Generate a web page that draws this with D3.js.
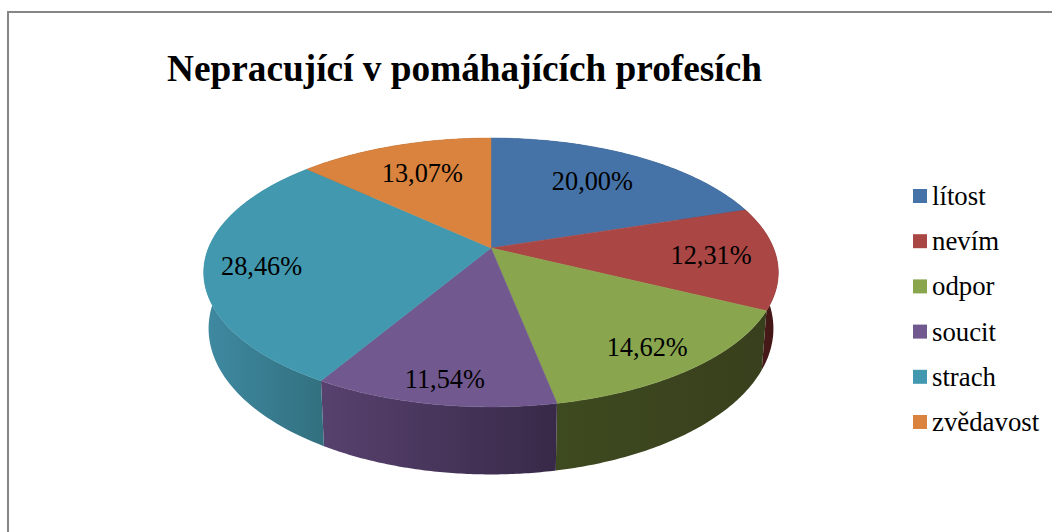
<!DOCTYPE html>
<html><head><meta charset="utf-8">
<script src="https://cdn.jsdelivr.net/npm/d3@7"></script>
<style>html,body{margin:0;padding:0;background:#fff;overflow:hidden}svg{display:block}text{font-family:"Liberation Serif","Times New Roman",serif;fill:#000}</style>
</head><body><svg id="c" width="1052" height="532"></svg>
<script>
const titleText = "Nepracující v pomáhajících profesích";
const categories = ["lítost","nevím","odpor","soucit","strach","zvědavost"];
const values = [20.00,12.31,14.62,11.54,28.46,13.07];
const labels = ["20,00%","12,31%","14,62%","11,54%","28,46%","13,07%"];
const colors = ["#4572A7","#AA4643","#89A54E","#71588F","#4198AF","#D9833E"];
const sideLeft = ["#2a4466","#4f1c1c","#3e4a20","#57416e","#3f8aa2","#7d4a20"];
const sideRight = ["#2a4466","#431616","#383f1c","#382948","#32707f","#7d4a20"];
const labelRadius = [0.70,0.78,0.85,0.87,0.80,0.70];
const labelNudge = [[-4,0],[-2,0],[-10,-1],[3,-1],[-1,3],[2,0]];

const svg = d3.select("#c");
const cx=491, cy=248, a=130, b=282.5, p=0.182;
// perspective projection of the tilted disc
const proj = (r,t,sx=1,sy=1,dy=0) => {
  const u=r*Math.sin(t), v=-r*Math.cos(t), w=1-p*v;
  return [cx+sx*b*u/w, cy+dy+sy*a*v/w];
};
const top_ = (r,t)=>proj(r,t);
const bot = t=>proj(1,t,0.983,1.085,54);
const line = d3.line();
const arcs = d3.pie().sort(null)(values);
const steps = (d)=>d3.range(0,1.0001,1/80).map(k=>d.startAngle+k*(d.endAngle-d.startAngle));

svg.append("path").attr("d","M8,532V12H1052").attr("fill","none").attr("stroke","#868686").attr("stroke-width",2);

const defs = svg.append("defs");
arcs.forEach((d,i)=>{
  const ts=steps(d), t=ts.map(x=>top_(1,x)), bb=ts.map(bot);
  const xs=t.concat(bb).map(q=>q[0]);
  const g=defs.append("linearGradient").attr("id","g"+i).attr("gradientUnits","userSpaceOnUse")
    .attr("x1",d3.min(xs)).attr("x2",d3.max(xs)).attr("y1",0).attr("y2",0);
  g.append("stop").attr("offset",0).attr("stop-color",sideLeft[i]);
  g.append("stop").attr("offset",1).attr("stop-color",sideRight[i]);
  svg.append("path").attr("d",line(t.concat(bb.reverse()))+"Z").attr("fill",`url(#g${i})`);
});
arcs.forEach((d,i)=>{
  const pts=[[cx,cy]].concat(steps(d).map(x=>top_(1,x)));
  svg.append("path").attr("d",line(pts)+"Z").attr("fill",colors[i]).attr("stroke",colors[i]).attr("stroke-width",0.5);
});
arcs.forEach((d,i)=>{
  const q=top_(labelRadius[i],(d.startAngle+d.endAngle)/2);
  svg.append("text").attr("x",q[0]+labelNudge[i][0]).attr("y",q[1]+8.5+labelNudge[i][1]).attr("text-anchor","middle").attr("font-size",26.3).text(labels[i]);
});
svg.append("text").attr("x",464.5).attr("y",81).attr("text-anchor","middle").attr("font-size",37.3).attr("font-weight","bold").text(titleText);

const ly=d3.scalePoint().domain(categories).range([196,422]);
categories.forEach((c,i)=>{
  svg.append("rect").attr("x",913).attr("y",ly(c)-7).attr("width",14).attr("height",14).attr("fill",colors[i]);
  svg.append("text").attr("x",932).attr("y",ly(c)+9).attr("font-size",26.8).text(c);
});
</script></body></html>
